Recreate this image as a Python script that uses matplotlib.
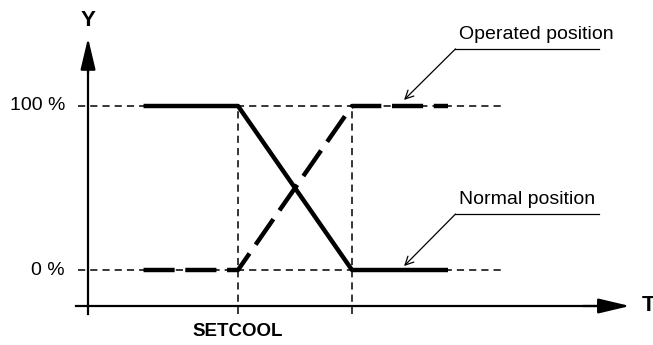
import numpy as np
import matplotlib.pyplot as plt

plt.rcParams['font.family'] = ['Liberation Sans', 'DejaVu Sans']

# time axis (arbitrary units), y in percent
t_points = [3.7, 10, 17.6, 24]
y_normal = [100, 100, 0, 0]
y_operated = [0, 0, 100, 100]
levels = [0, 100]
level_labels = ["0 %", "100 %"]
setcool = 10
t_ramp_end = 17.6
labels = ["Operated position", "Normal position"]

fig = plt.figure(figsize=(6.53, 3.45), dpi=100)
ax = fig.add_axes([0, 0, 1, 1])
ax.set_xlim(-5.87, 37.67)
ax.set_ylim(-45.73, 164.63)
ax.axis("off")

# reference dashed lines
for lv in levels:
    ax.plot([-0.67, 27.7], [lv, lv], color="black", lw=1.1, ls=(0, (4.7, 3.3)))
for tv in [setcool, t_ramp_end]:
    ax.plot([tv, tv], [-26.8, 100], color="black", lw=1.1, ls=(0, (4.7, 3.3)))

# axes with arrows
x_axis_y = -21.95
ax.plot([-0.8, 34.5], [x_axis_y, x_axis_y], color="black", lw=1.6)
ax.plot([0, 0], [-26.8, 125], color="black", lw=1.6)
ax.annotate("", xy=(36.13, x_axis_y), xytext=(33, x_axis_y),
            arrowprops=dict(arrowstyle="-|>,head_length=0.97,head_width=0.23",
                            color="black", lw=1.6, shrinkA=0, shrinkB=0,
                            mutation_scale=20))
ax.annotate("", xy=(0, 141.5), xytext=(0, 120),
            arrowprops=dict(arrowstyle="-|>,head_length=0.97,head_width=0.23",
                            color="black", lw=1.6, shrinkA=0, shrinkB=0,
                            mutation_scale=20))

# curves
ax.plot(t_points, y_normal, color="black", lw=3.2, solid_capstyle="butt")
ax.plot(t_points, y_operated, color="black", lw=3.2, ls=(0, (7.0, 2.4)),
        dash_capstyle="butt")

# level labels
for lv, lab in zip(levels, level_labels):
    ax.text(-1.53, lv, lab, ha="right", va="center", fontsize=14)

ax.text(setcool, -37.8, "SETCOOL", ha="center", va="center",
        fontsize=13.5, fontweight="bold")
ax.text(36.9, x_axis_y, "T", ha="left", va="center", fontsize=16,
        fontweight="bold")
ax.text(0, 152.4, "Y", ha="center", va="center", fontsize=16,
        fontweight="bold")

# leader annotations
for lab, ty, uy, tip in zip(labels, [143.3, 42.7], [134.8, 34.1],
                            [(21.07, 103.7), (21.07, 2.4)]):
    ax.text(24.73, ty, lab, ha="left", va="center", fontsize=14)
    ax.plot([24.5, 34.05], [uy, uy], color="black", lw=0.9)
    ax.annotate("", xy=tip, xytext=(24.5, uy),
                arrowprops=dict(arrowstyle="->,head_length=0.3,head_width=0.15",
                                color="black", lw=0.9, shrinkA=0, shrinkB=0,
                                mutation_scale=20))

fig.savefig("out.png", dpi=100)
